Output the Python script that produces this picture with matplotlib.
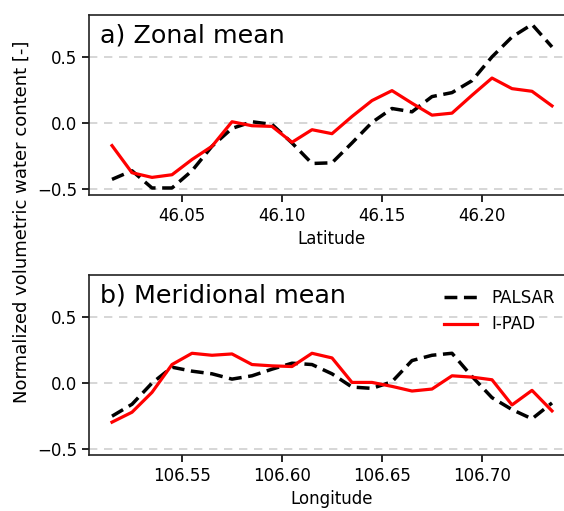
import numpy as np
import matplotlib
matplotlib.use("Agg")
import matplotlib.pyplot as plt

lat = [46.015, 46.025, 46.035, 46.045, 46.055, 46.065, 46.075, 46.085, 46.095, 46.105,
       46.115, 46.125, 46.135, 46.145, 46.155, 46.165, 46.175, 46.185, 46.195, 46.205,
       46.215, 46.225, 46.235]
zonal_ipad = [-0.17, -0.375, -0.41, -0.39, -0.275, -0.175, 0.01, -0.02, -0.025, -0.145,
              -0.05, -0.08, 0.05, 0.17, 0.245, 0.15, 0.06, 0.075, 0.21, 0.34,
              0.26, 0.24, 0.13]
zonal_palsar = [-0.425, -0.36, -0.49, -0.49, -0.36, -0.175, -0.04, 0.01, -0.01, -0.15,
                -0.305, -0.30, -0.15, 0.005, 0.11, 0.085, 0.20, 0.23, 0.32, 0.50,
                0.65, 0.745, 0.575]

lon = [106.515, 106.525, 106.535, 106.545, 106.555, 106.565, 106.575, 106.585, 106.595, 106.605,
       106.615, 106.625, 106.635, 106.645, 106.655, 106.665, 106.675, 106.685, 106.695, 106.705,
       106.715, 106.725, 106.735]
merid_ipad = [-0.295, -0.22, -0.07, 0.14, 0.225, 0.21, 0.22, 0.14, 0.13, 0.125,
              0.225, 0.19, 0.005, 0.005, -0.025, -0.06, -0.045, 0.055, 0.045, 0.025,
              -0.165, -0.055, -0.21]
merid_palsar = [-0.25, -0.16, 0.0, 0.12, 0.09, 0.07, 0.03, 0.055, 0.105, 0.15,
                0.14, 0.07, -0.03, -0.04, 0.01, 0.17, 0.21, 0.225, 0.05, -0.11,
                -0.2, -0.27, -0.15]

lat_ticks = [46.05, 46.10, 46.15, 46.20]
lon_ticks = [106.55, 106.60, 106.65, 106.70]
y_ticks = [-0.5, 0.0, 0.5]

W, H = 564, 511
fig = plt.figure(figsize=(W / 100, H / 100), dpi=100)

ax_left = 89 / W
ax_w = 485 / W
ax1 = fig.add_axes([ax_left, 316 / H, ax_w, 180 / H])
ax2 = fig.add_axes([ax_left, 56 / H, ax_w, 180 / H])

panels = [
    (ax1, lat, zonal_palsar, zonal_ipad, "a) Zonal mean", "Latitude", lat_ticks,
     (46.0035, 46.246)),
    (ax2, lon, merid_palsar, merid_ipad, "b) Meridional mean", "Longitude", lon_ticks,
     (106.5035, 106.746)),
]

for ax, x, pal, ipad, title, xlabel, xt, xl in panels:
    ax.plot(x, pal, color="black", linestyle=(0, (3.7, 1.9)), linewidth=2.5, label="PALSAR")
    ax.plot(x, ipad, color="red", linestyle="-", linewidth=2.3, label="I-PAD")
    ax.set_xlim(*xl)
    ax.set_ylim(-0.543, 0.816)
    ax.set_yticks(y_ticks)
    ax.set_yticklabels(["\u22120.5", "0.0", "0.5"])
    ax.set_xticks(xt)
    ax.set_xticklabels([f"{v:.2f}" for v in xt])
    ax.tick_params(labelsize=12, length=5, width=1.2)
    ax.yaxis.grid(True, color="#d0d0d0", linestyle=(0, (5, 4)), linewidth=1.2)
    ax.set_axisbelow(True)
    for s in ax.spines.values():
        s.set_linewidth(1.2)
        s.set_color("#222222")
    ax.set_xlabel(xlabel, fontsize=12, labelpad=4)
    ax.text(0.022, 0.955, title, transform=ax.transAxes, fontsize=18.3, va="top", ha="left")

leg = ax2.legend(loc="upper left", bbox_to_anchor=(0.70, 1.005), frameon=False, fontsize=12,
                 handlelength=2.0, handletextpad=0.9, labelspacing=0.5)

fig.text(0.039, 0.566, "Normalized volumetric water content [-]", rotation=90,
         fontsize=13, va="center", ha="center")

fig.savefig("out.png", dpi=100)
